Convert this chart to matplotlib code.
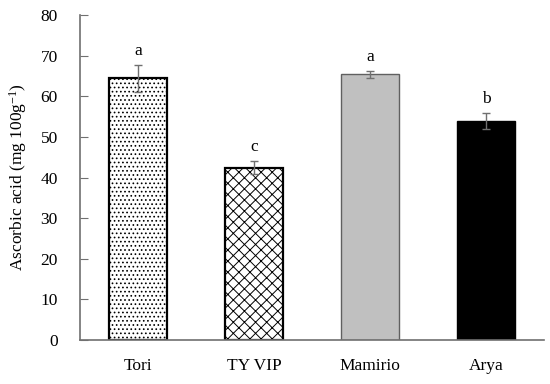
import matplotlib
matplotlib.use("Agg")
import matplotlib.pyplot as plt

plt.rcParams['font.family'] = ['Liberation Serif', 'DejaVu Serif']
plt.rcParams['mathtext.fontset'] = 'custom'
plt.rcParams['mathtext.rm'] = 'Liberation Serif'
plt.rcParams['mathtext.default'] = 'regular'
plt.rcParams['hatch.linewidth'] = 0.7

categories = ["Tori", "TY VIP", "Mamirio", "Arya"]
values = [64.4, 42.4, 65.4, 53.9]
errors = [3.3, 1.6, 0.9, 1.9]
letters = ["a", "c", "a", "b"]
yticks = [0, 10, 20, 30, 40, 50, 60, 70, 80]

fig = plt.figure(figsize=(5.5, 3.84), dpi=100)
ax = fig.add_axes([80/550, 1 - 340/384, 464/550, 325/384])

x = [i + 0.5 for i in range(len(categories))]
faces = ["white", "white", "#c0c0c0", "black"]
edges = ["black", "black", "#606060", "black"]
hatches = ["....", "xxx", None, None]
lws = [1.6, 1.6, 1.0, 1.0]
for xi, v, fc, ec, h, lw in zip(x, values, faces, edges, hatches, lws):
    ax.bar(xi, v, width=0.5, color=fc, edgecolor=ec, hatch=h, linewidth=lw, zorder=2)
ax.errorbar(x, values, yerr=errors, fmt='none', ecolor='#707070', elinewidth=1,
            capsize=3, capthick=1, zorder=3)
for xi, v, e, l in zip(x, values, errors, letters):
    ax.text(xi, v + e + 1.5, l, ha='center', va='bottom', fontsize=12.5)

ax.set_xlim(0, 4)
ax.set_ylim(0, 80)
ax.set_yticks(yticks)
ax.set_xticks(x)
ax.set_xticklabels(categories, fontsize=12.5)
ax.tick_params(axis='y', direction='in', length=6, color='#707070', labelsize=12.5, pad=16)
ax.tick_params(axis='x', length=0, pad=13)
for s in ['top', 'right']:
    ax.spines[s].set_visible(False)
for s in ['left', 'bottom']:
    ax.spines[s].set_color('#707070')
    ax.spines[s].set_linewidth(1.2)
ax.set_ylabel("Ascorbic acid (mg 100g$^{-1}$)", fontsize=12.5, labelpad=8)

fig.savefig("out.png", dpi=100)
